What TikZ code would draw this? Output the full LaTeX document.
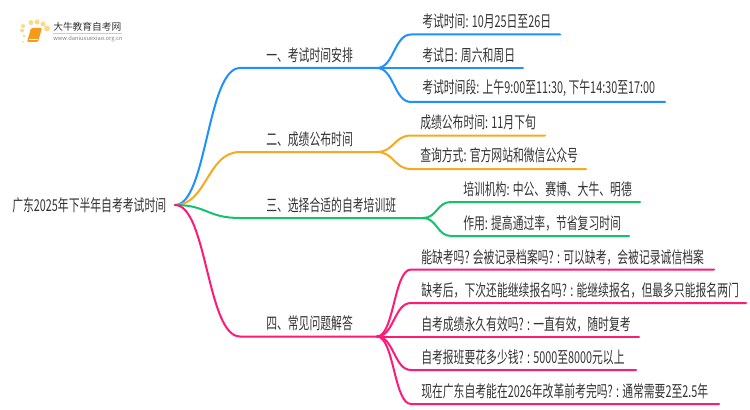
\documentclass[tikz,border=0pt]{standalone}
\usepackage{fontspec}
\setmainfont[FakeStretch=0.66]{Noto Sans CJK SC}
\newfontfamily\logofont{Noto Sans CJK SC}
\usepackage{xcolor}
\usetikzlibrary{calc}
\definecolor{lineblue}{HTML}{1E90FF}
\definecolor{lineorange}{HTML}{F9A91E}
\definecolor{linegreen}{HTML}{10C46E}
\definecolor{linepink}{HTML}{FF1A75}
\definecolor{textgray}{HTML}{333333}
\definecolor{bookorange}{HTML}{F59A1B}
\definecolor{dotyellow}{HTML}{FBD98A}

\begin{document}
\begin{tikzpicture}[x=0.75pt, y=-0.75pt,
    every node/.style={font=\fontsize{12.3pt}{14pt}\selectfont, text=textgray, inner sep=0pt, anchor=west},
    branch/.style={line width=1.5pt, line cap=round}]
  \useasboundingbox (0,0) rectangle (750,410);

  % logo
  \fill[dotyellow] (23,42) circle (1) (24,36) circle (1.5) (22,30.5) circle (2) (23,26) circle (2) (31,22.5) circle (2.5) (37,22) circle (2.5) (43,24) circle (2.5) (47,28.5) circle (3);
  \fill[bookorange, rounded corners=1pt] (31,28) -- (42,28) -- (38,42) -- (27,42) -- cycle;
  \draw[white, line width=0.5pt] (29,39.5) -- (38,39.5);
  \node[font=\logofont\fontsize{7.3pt}{9pt}\selectfont] (logotitle) at (53,27) {大牛教育自考网};
  \draw[gray!40, line width=0.4pt] (53,33) -- (122,33);
  \node[font=\logofont\fontsize{4.3pt}{6pt}\selectfont, text=gray] (logourl) at (53,39) {www.daniuxuexiao.org.cn};

  % root and main topics
  \node (root) at (12,205) {广东2025年下半年自考考试时间};
  \coordinate (hub) at (175,205);
  \node (topicA) at (266,55) {一、考试时间安排};
  \node (topicB) at (266,139) {二、成绩公布时间};
  \node (topicC) at (266,205) {三、选择合适的自考培训班};
  \node (topicD) at (266,323) {四、常见问题解答};

  % leaves
  \node (timeA) at (422,21) {考试时间: 10月25日至26日};
  \node (timeB) at (422,55) {考试日: 周六和周日};
  \node (timeC) at (422,88) {考试时间段: 上午9:00至11:30, 下午14:30至17:00};
  \node (scoreA) at (420,122) {成绩公布时间: 11月下旬};
  \node (scoreB) at (420,155) {查询方式: 官方网站和微信公众号};
  \node (classA) at (463,189) {培训机构: 中公、赛博、大牛、明德};
  \node (classB) at (463,223) {作用: 提高通过率，节省复习时间};
  \node (askA) at (421,257) {能缺考吗? 会被记录档案吗? : 可以缺考，会被记录诚信档案};
  \node (askB) at (421,290) {缺考后，下次还能继续报名吗? : 能继续报名，但最多只能报名两门};
  \node (askC) at (421,324) {自考成绩永久有效吗? : 一直有效，随时复考};
  \node (askD) at (421,357) {自考报班要花多少钱? : 5000至8000元以上};
  \node (askE) at (421,391) {现在广东自考能在2026年改革前考完吗? : 通常需要2至2.5年};

  % connectors
  \coordinate (forkA) at (377,68);
  \coordinate (forkB) at (377,152);
  \coordinate (forkC) at (423,218);
  \coordinate (forkD) at (377,336.5);
  \draw[branch, lineblue] (hub) .. controls (207,205) and (207,68) .. (240,68) -- (forkA);
  \draw[branch, lineorange] (hub) .. controls (207,205) and (207,152) .. (240,152) -- (forkB);
  \draw[branch, linegreen] (hub) .. controls (207,205) and (207,218) .. (240,218) -- (forkC);
  \draw[branch, linepink] (hub) .. controls (207,205) and (207,336.5) .. (240,336.5) -- (forkD);

  \draw[branch, lineblue] (forkA) .. controls (394,68) and (394,34.5) .. (411,34.5) -- (560,34.5);
  \draw[branch, lineblue] (forkA) -- (523,68);
  \draw[branch, lineblue] (forkA) .. controls (394,68) and (394,102) .. (411,102) -- (665,102);
  \draw[branch, lineorange] (forkB) .. controls (394,152) and (394,135.5) .. (411,135.5) -- (545,135.5);
  \draw[branch, lineorange] (forkB) .. controls (394,152) and (394,169) .. (411,169) -- (586,169);
  \draw[branch, linegreen] (forkC) .. controls (437,218) and (437,202) .. (451,202) -- (640,202);
  \draw[branch, linegreen] (forkC) .. controls (437,218) and (437,236) .. (451,236) -- (629,236);
  \draw[branch, linepink] (forkD) .. controls (394,336.5) and (394,269.5) .. (411,269.5) -- (714,269.5);
  \draw[branch, linepink] (forkD) .. controls (394,336.5) and (394,303) .. (411,303) -- (746,303);
  \draw[branch, linepink] (forkD) -- (639,336.5);
  \draw[branch, linepink] (forkD) .. controls (394,336.5) and (394,370) .. (411,370) -- (636,370);
  \draw[branch, linepink] (forkD) .. controls (394,336.5) and (394,404) .. (411,404) -- (719,404);
\end{tikzpicture}
\end{document}
